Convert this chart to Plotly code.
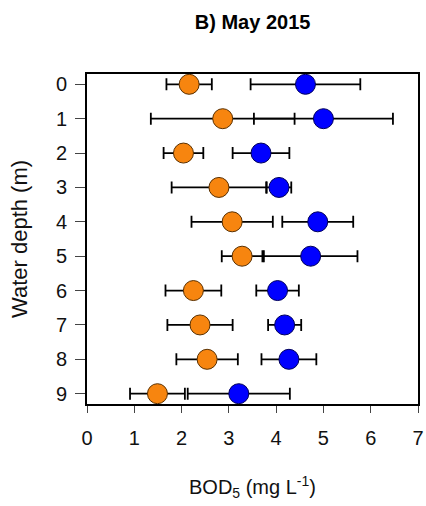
import plotly.graph_objects as go

depth = [0, 1, 2, 3, 4, 5, 6, 7, 8, 9]
orange_mean = [2.16, 2.87, 2.04, 2.79, 3.07, 3.28, 2.25, 2.39, 2.54, 1.49]
orange_err = [0.48, 1.52, 0.42, 1.00, 0.86, 0.43, 0.59, 0.69, 0.65, 0.58]
blue_mean = [4.62, 5.00, 3.68, 4.06, 4.88, 4.73, 4.03, 4.18, 4.27, 3.21]
blue_err = [1.16, 1.47, 0.60, 0.26, 0.75, 0.99, 0.45, 0.35, 0.58, 1.08]
x_ticks = [0, 1, 2, 3, 4, 5, 6, 7]

fig = go.Figure()
fig.add_trace(go.Scatter(
    x=orange_mean, y=depth, mode="markers",
    error_x=dict(type="data", array=orange_err, color="black", thickness=1.8, width=6),
    marker=dict(size=20, color="#F7850F", line=dict(color="#5a3000", width=1)),
    showlegend=False))
fig.add_trace(go.Scatter(
    x=blue_mean, y=depth, mode="markers",
    error_x=dict(type="data", array=blue_err, color="black", thickness=1.8, width=6),
    marker=dict(size=20, color="#0000FF", line=dict(color="#00005a", width=1)),
    showlegend=False))

fig.update_layout(
    width=426, height=506,
    margin=dict(l=87, r=8, t=74, b=102),
    paper_bgcolor="white", plot_bgcolor="white",
    font=dict(family="Liberation Sans, Arial", size=20, color="#111111"),
    title=dict(text="<b>B) May 2015</b>", x=0.593, xanchor="center", y=0.957, yanchor="middle",
               font=dict(size=20, color="black")),
    xaxis=dict(range=[0, 7], tickvals=x_ticks, showgrid=False, zeroline=False,
               showline=True, linecolor="black", linewidth=2, mirror=True,
               ticks="outside", ticklen=7, tickcolor="#444444", tickwidth=1,
               ticklabelstandoff=8, automargin=False,
               title=dict(text="BOD<sub>5</sub> (mg L<sup>-1</sup>)", standoff=32,
                          font=dict(size=20))),
    yaxis=dict(range=[9.3, -0.3], tickvals=depth, showgrid=False, zeroline=False,
               showline=True, linecolor="black", linewidth=2, mirror=True,
               ticks="outside", ticklen=10, tickcolor="#444444", tickwidth=1,
               ticklabelstandoff=4, automargin=False,
               title=dict(text="Water depth (m)", standoff=22, font=dict(size=22))),
)

fig.write_html("out.html")
